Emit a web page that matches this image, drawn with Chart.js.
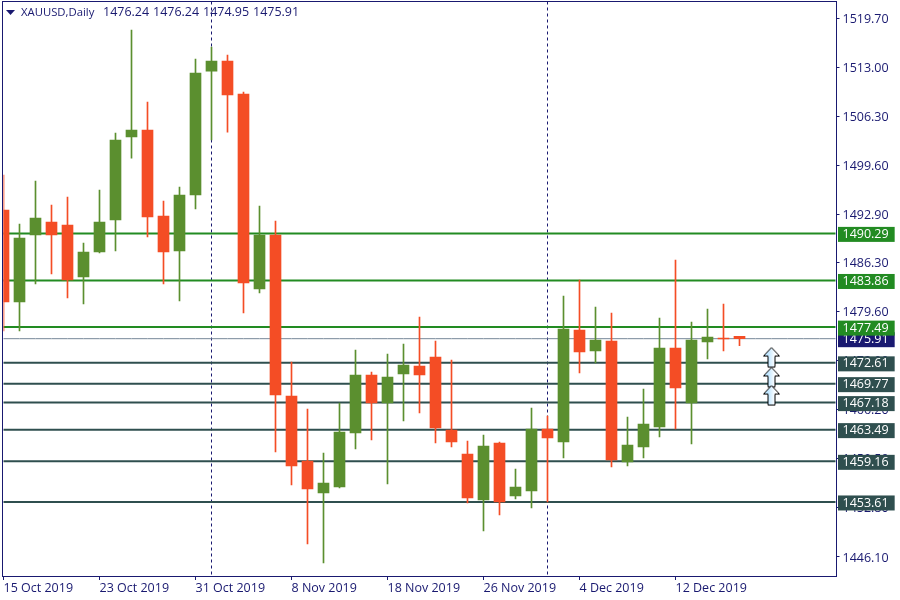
<!DOCTYPE html>
<html>
<head>
<meta charset="utf-8">
<title>XAUUSD,Daily</title>
<script src="https://cdn.jsdelivr.net/npm/chart.js@4/dist/chart.umd.min.js"></script>
<style>
    html, body { margin: 0; padding: 0; background: #ffffff; }
    #box { width: 900px; height: 600px; }
</style>
</head>
<body>
<div id="box"><canvas id="priceChart" width="900" height="600"></canvas></div>
<script>

/* ==========================================
        DATA
========================================== */

const categories = [
    "15 Oct 2019", "16 Oct 2019", "17 Oct 2019", "18 Oct 2019", "21 Oct 2019", "22 Oct 2019",
    "23 Oct 2019", "24 Oct 2019", "25 Oct 2019", "28 Oct 2019", "29 Oct 2019", "30 Oct 2019",
    "31 Oct 2019", "1 Nov 2019", "4 Nov 2019", "5 Nov 2019", "6 Nov 2019", "7 Nov 2019",
    "8 Nov 2019", "11 Nov 2019", "12 Nov 2019", "13 Nov 2019", "14 Nov 2019", "15 Nov 2019",
    "18 Nov 2019", "19 Nov 2019", "20 Nov 2019", "21 Nov 2019", "22 Nov 2019", "25 Nov 2019",
    "26 Nov 2019", "27 Nov 2019", "28 Nov 2019", "29 Nov 2019", "2 Dec 2019", "3 Dec 2019",
    "4 Dec 2019", "5 Dec 2019", "6 Dec 2019", "9 Dec 2019", "10 Dec 2019", "11 Dec 2019",
    "12 Dec 2019", "13 Dec 2019", "16 Dec 2019", "17 Dec 2019", "18 Dec 2019"
];

// empty days to the right of the last candle
const futureDays = [
    "19 Dec 2019", "20 Dec 2019", "23 Dec 2019", "24 Dec 2019", "25 Dec 2019", "26 Dec 2019"
];

const opens = [
    1493.48, 1480.92, 1490.07, 1491.84, 1491.43, 1484.33, 1487.75, 1492.12, 1503.45, 1504.41,
    1492.66, 1487.88, 1495.53, 1512.46, 1513.83, 1509.32, 1482.69, 1490.07, 1468.08, 1459.21,
    1454.84, 1455.66, 1463.03, 1470.95, 1467.13, 1471.09, 1472.18, 1473.41, 1463.44, 1460.16,
    1453.88, 1461.66, 1454.43, 1455.11, 1463.58, 1461.80, 1477.10, 1474.23, 1475.59, 1459.07,
    1461.12, 1463.85, 1474.64, 1467.13, 1475.46, 1476.00, 1476.24
];

const highs = [
    1498.26, 1491.57, 1497.44, 1494.17, 1495.26, 1488.98, 1496.21, 1504.00, 1518.06, 1508.23,
    1494.71, 1496.62, 1514.10, 1515.74, 1514.65, 1509.60, 1494.03, 1491.98, 1472.72, 1466.31,
    1460.30, 1467.13, 1474.36, 1471.36, 1473.82, 1475.18, 1478.87, 1475.59, 1473.00, 1461.94,
    1462.76, 1461.80, 1458.11, 1466.44, 1465.35, 1481.74, 1483.92, 1480.24, 1479.42, 1465.21,
    1469.04, 1478.73, 1486.65, 1478.19, 1479.96, 1480.65, 1476.24
];

const lows = [
    1476.96, 1476.96, 1483.38, 1484.74, 1481.47, 1480.65, 1487.61, 1487.88, 1500.58, 1489.80,
    1483.38, 1481.06, 1493.62, 1503.04, 1504.13, 1479.42, 1482.15, 1460.44, 1455.93, 1447.87,
    1445.28, 1455.52, 1460.85, 1462.07, 1456.07, 1464.67, 1465.76, 1461.66, 1461.12, 1453.47,
    1449.65, 1451.83, 1454.02, 1452.79, 1453.61, 1459.62, 1471.22, 1472.59, 1458.39, 1458.52,
    1459.62, 1462.48, 1463.58, 1461.53, 1473.14, 1474.23, 1474.95
];

const closes = [
    1480.92, 1489.66, 1492.39, 1490.07, 1483.92, 1487.75, 1491.84, 1503.04, 1504.41, 1492.53,
    1487.75, 1495.53, 1512.19, 1513.83, 1509.19, 1483.51, 1490.07, 1468.22, 1458.52, 1455.38,
    1456.20, 1463.17, 1470.95, 1467.13, 1470.68, 1472.32, 1470.95, 1463.71, 1461.80, 1454.15,
    1461.25, 1453.61, 1455.66, 1463.58, 1462.35, 1477.23, 1474.09, 1475.73, 1459.34, 1461.39,
    1464.26, 1474.64, 1469.17, 1475.73, 1476.14, 1475.87, 1475.91
];

const tickValues = [
    1519.70, 1513.00, 1506.30, 1499.60, 1492.90, 1486.30,
    1479.60, 1472.90, 1466.20, 1459.50, 1452.80, 1446.10
];

const resistanceLevels = [1490.29, 1483.86, 1477.49];
const supportLevels = [1472.61, 1469.77, 1467.18, 1463.49, 1459.16, 1453.61];
const currentPrice = 1475.91;

const separatorDays = ["1 Nov 2019", "2 Dec 2019"];

const arrowDay = "20 Dec 2019";
const arrowPrices = [1473.34, 1470.61, 1468.15];

const headerName = "XAUUSD,Daily";
const headerPrices = ["1476.24", "1476.24", "1474.95", "1475.91"];

/* ==========================================
        STYLE
========================================== */

const COLOR_UP = "#5b8f2f";
const COLOR_DOWN = "#f44d25";
const COLOR_AXIS = "#191970";
const COLOR_RESISTANCE = "#228b22";
const COLOR_SUPPORT = "#2f4f4f";
const COLOR_CURRENT = "#778899";
const FONT_FAMILY = "'Open Sans'";
const FONT_SIZE = 12.5;
const NAME_FONT_SIZE = 11.3;

/* ==========================================
        BUILD DATASETS
========================================== */

function candleColors() {

    return closes.map((close, i) => close >= opens[i] ? COLOR_UP : COLOR_DOWN);

}

function levelDataset(value, color, width) {

    return {
        type: "line",
        data: allDays.map(() => value),
        borderColor: color,
        borderWidth: width,
        pointRadius: 0,
        order: 5
    };

}

function makeArrowImage() {

    const image = document.createElement("canvas");
    image.width = 19;
    image.height = 22;

    const ctx = image.getContext("2d");

    const fill = ctx.createLinearGradient(6, 0, 13, 0);
    fill.addColorStop(0, "#bfe6ff");
    fill.addColorStop(1, "#ffffff");

    ctx.beginPath();
    ctx.moveTo(9.5, 1);
    ctx.lineTo(17.5, 9.5);
    ctx.lineTo(13, 9.5);
    ctx.lineTo(13, 20.5);
    ctx.lineTo(6, 20.5);
    ctx.lineTo(6, 9.5);
    ctx.lineTo(1.5, 9.5);
    ctx.closePath();
    ctx.fillStyle = fill;
    ctx.fill();
    ctx.strokeStyle = "#000000";
    ctx.lineWidth = 1;
    ctx.stroke();

    return image;

}

const allDays = categories.concat(futureDays);
const levelColors = {};

resistanceLevels.forEach(v => { levelColors[v] = COLOR_RESISTANCE; });
supportLevels.forEach(v => { levelColors[v] = COLOR_SUPPORT; });
levelColors[currentPrice] = COLOR_AXIS;

/* ==========================================
        EXTRAS: SEPARATORS, FRAME, HEADER
========================================== */

const chartExtras = {

    id: "chartExtras",

    beforeDatasetsDraw(chart) {

        const { ctx, chartArea, scales } = chart;

        ctx.save();
        ctx.strokeStyle = COLOR_AXIS;
        ctx.lineWidth = 1;
        ctx.setLineDash([3, 3]);

        separatorDays.forEach(day => {

            const x = scales.x.getPixelForValue(allDays.indexOf(day));

            ctx.beginPath();
            ctx.moveTo(x, chartArea.top);
            ctx.lineTo(x, chartArea.bottom);
            ctx.stroke();

        });

        ctx.restore();

    },

    afterDraw(chart) {

        const { ctx, chartArea } = chart;

        ctx.save();

        ctx.strokeStyle = COLOR_AXIS;
        ctx.lineWidth = 1;
        ctx.strokeRect(
            chartArea.left - 1,
            chartArea.top,
            chartArea.right - chartArea.left + 2,
            chartArea.bottom - chartArea.top + 0.5
        );

        ctx.fillStyle = COLOR_AXIS;
        ctx.beginPath();
        ctx.moveTo(chartArea.left + 2.5, chartArea.top + 8.5);
        ctx.lineTo(chartArea.left + 11.5, chartArea.top + 8.5);
        ctx.lineTo(chartArea.left + 7, chartArea.top + 13.5);
        ctx.closePath();
        ctx.fill();

        ctx.textBaseline = "middle";
        ctx.textAlign = "left";

        ctx.font = NAME_FONT_SIZE + "px " + FONT_FAMILY;
        ctx.fillText(headerName, chartArea.left + 17.5, chartArea.top + 11);

        ctx.font = FONT_SIZE + "px " + FONT_FAMILY;

        headerPrices.forEach((price, i) => {

            ctx.fillText(price, chartArea.left + 99.5 + i * 50, chartArea.top + 11);

        });

        ctx.restore();

    }

};

/* ==========================================
        CREATE CHART
========================================== */

function renderChart() {

    const ctx = document.getElementById("priceChart").getContext("2d");

    const colors = candleColors();

    const bodies = {
        label: "Body",
        data: opens.map((open, i) => [open, closes[i]]),
        backgroundColor: colors,
        barThickness: 11,
        grouped: false,
        order: 1
    };

    const wicks = {
        label: "Wick",
        data: lows.map((low, i) => [low, highs[i]]),
        backgroundColor: colors,
        barThickness: 1,
        grouped: false,
        order: 2
    };

    const arrows = {
        type: "line",
        label: "Arrows",
        data: arrowPrices.map(price => ({ x: arrowDay, y: price })),
        showLine: false,
        pointStyle: makeArrowImage(),
        pointRadius: 10,
        order: 0
    };

    const datasets = [bodies, wicks, arrows];

    resistanceLevels.forEach(v => datasets.push(levelDataset(v, COLOR_RESISTANCE, 2)));
    supportLevels.forEach(v => datasets.push(levelDataset(v, COLOR_SUPPORT, 2)));
    datasets.push(levelDataset(currentPrice, COLOR_CURRENT, 1));

    new Chart(ctx, {

        type: "bar",

        data: {
            labels: allDays,
            datasets: datasets
        },

        plugins: [chartExtras],

        options: {

            responsive: false,
            animation: false,

            layout: {
                autoPadding: false,
                padding: { left: 3.5, top: 1.5, right: 0, bottom: 0 }
            },

            plugins: {
                legend: { display: false },
                tooltip: { enabled: false }
            },

            scales: {

                x: {
                    offset: false,
                    border: { display: false },
                    grid: {
                        offset: false,
                        drawOnChartArea: false,
                        drawTicks: true,
                        tickLength: 4,
                        tickColor: COLOR_AXIS
                    },
                    ticks: {
                        autoSkip: false,
                        maxRotation: 0,
                        minRotation: 0,
                        align: "start",
                        padding: 1,
                        color: COLOR_AXIS,
                        font: { family: FONT_FAMILY, size: FONT_SIZE }
                    },
                    afterBuildTicks(scale) {
                        scale.ticks = scale.ticks.filter(
                            t => t.value % 6 === 0 && t.value < categories.length
                        );
                    },
                    afterFit(scale) {
                        scale.height = 24;
                        scale.paddingLeft = 0;
                        scale.paddingRight = 0;
                    }
                },

                y: {
                    position: "right",
                    min: 1443.50,
                    max: 1521.96,
                    border: { display: false },
                    grid: {
                        drawOnChartArea: false,
                        drawTicks: true,
                        tickLength: 4,
                        tickColor: c => levelColors[c.tick.value] ? "rgba(0,0,0,0)" : COLOR_AXIS
                    },
                    ticks: {
                        autoSkip: false,
                        padding: 3,
                        labelOffset: 1,
                        crossAlign: "near",
                        showLabelBackdrop: c => Boolean(levelColors[c.tick.value]),
                        backdropColor: c => levelColors[c.tick.value] || "rgba(0,0,0,0)",
                        backdropPadding: { left: 4.5, right: 6, top: 0, bottom: 0 },
                        color: c => levelColors[c.tick.value] ? "#ffffff" : COLOR_AXIS,
                        font: { family: FONT_FAMILY, size: FONT_SIZE },
                        callback: value => value.toFixed(2)
                    },
                    afterBuildTicks(scale) {
                        // level tags come last so they cover the plain tick labels
                        scale.ticks = tickValues
                            .concat([currentPrice], supportLevels, resistanceLevels)
                            .map(value => ({ value }));
                    },
                    afterFit(scale) {
                        scale.width = 64.5;
                        scale.paddingTop = 0;
                        scale.paddingBottom = 0;
                    }
                }

            }

        }

    });

}

window.addEventListener("load", renderChart);

</script>
</body>
</html>
